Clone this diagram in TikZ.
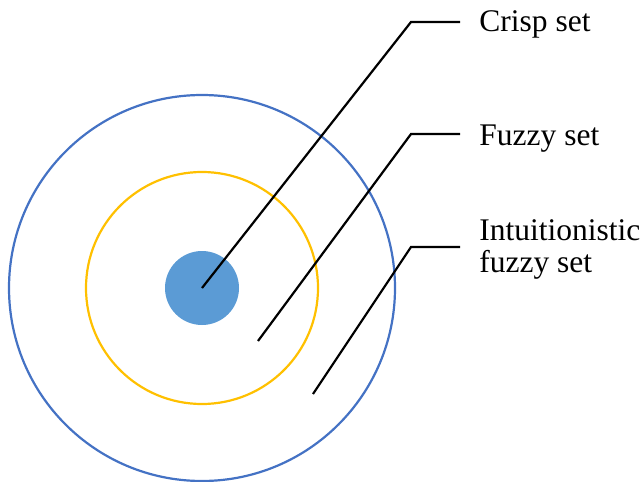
\documentclass[tikz,border=0pt]{standalone}
\usepackage{fontspec}
\setmainfont{Liberation Serif}
\usetikzlibrary{positioning}
\definecolor{ringblue}{HTML}{4472C4}
\definecolor{ringgold}{HTML}{FFC000}
\definecolor{coreblue}{HTML}{5B9BD5}

\begin{document}
\begin{tikzpicture}[x=0.5pt, y=-0.5pt,
    leader/.style={black, line width=1.1pt},
    setlabel/.style={font=\fontsize{15.75}{16}\selectfont, inner ysep=0pt, inner xsep=9.5pt, anchor=base west, align=left}]
    \useasboundingbox (0,0) rectangle (643,482);

    % Nested sets
    \draw[ringblue, line width=1.1pt] (202,288) circle [radius=96.5pt];
    \draw[ringgold, line width=1.1pt] (202,288) circle [radius=58pt];
    \fill[coreblue] (202,288) circle [radius=18.5pt];

    % Points inside the sets and bends of the leaders
    \coordinate (crispPt) at (202,288);
    \coordinate (fuzzyPt) at (258,341);
    \coordinate (ifsPt)   at (313,394);
    \coordinate (crispBend) at (411,22);
    \coordinate (fuzzyBend) at (411,134);
    \coordinate (ifsBend)   at (411,247);

    % Labels
    \node[setlabel] (crisp) at (460,32)  {Crisp set};
    \node[setlabel] (fuzzy) at (460,145) {Fuzzy set};
    \node[setlabel] (ifs)   at (460,272) {Intuitionistic\\fuzzy set};

    % Leaders
    \draw[leader] (crispPt) -- (crispBend) -- (crispBend -| crisp.west);
    \draw[leader] (fuzzyPt) -- (fuzzyBend) -- (fuzzyBend -| fuzzy.west);
    \draw[leader] (ifsPt) -- (ifsBend) -- (ifsBend -| ifs.west);
\end{tikzpicture}
\end{document}
